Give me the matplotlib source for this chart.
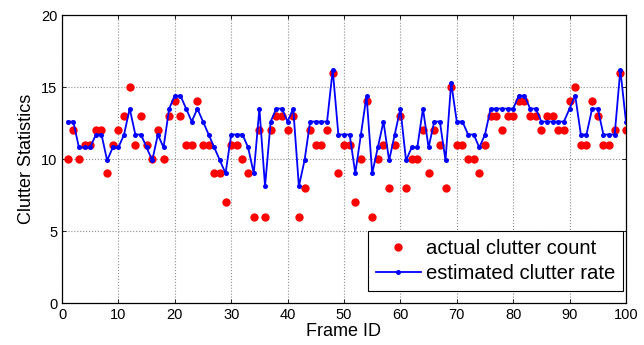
import numpy as np
import matplotlib.pyplot as plt

plt.rcParams['font.family'] = ['Liberation Sans', 'DejaVu Sans']

frames = np.arange(1, 101)

actual_count = [
    10, 12, 10, 11, 11, 12, 12, 9, 11, 12,
    13, 15, 11, 13, 11, 10, 12, 10, 13, 14,
    13, 11, 11, 14, 11, 11, 9, 9, 7, 11,
    11, 10, 9, 6, 12, 6, 12, 13, 13, 12,
    13, 6, 8, 12, 11, 11, 12, 16, 9, 11,
    11, 7, 10, 14, 6, 10, 11, 8, 11, 13,
    8, 10, 10, 12, 9, 12, 11, 8, 15, 11,
    11, 10, 10, 9, 11, 13, 13, 12, 13, 13,
    14, 14, 13, 13, 12, 13, 13, 12, 12, 14,
    15, 11, 11, 14, 13, 11, 11, 12, 16, 12,
]

estimated_rate = [
    12.6, 12.6, 10.8, 10.8, 10.8, 11.7, 11.7, 9.9, 10.8, 10.8,
    11.7, 13.5, 11.7, 11.7, 10.8, 9.9, 11.7, 10.8, 13.5, 14.4,
    14.4, 13.5, 12.6, 13.5, 12.6, 11.7, 10.8, 9.9, 9.0, 11.7,
    11.7, 11.7, 10.8, 9.0, 13.5, 8.1, 12.6, 13.5, 13.5, 12.6,
    13.5, 8.1, 9.9, 12.6, 12.6, 12.6, 12.6, 16.2, 11.7, 11.7,
    11.7, 9.0, 11.7, 14.4, 9.0, 10.8, 12.6, 9.9, 11.7, 13.5,
    9.9, 10.8, 10.8, 13.5, 10.8, 12.6, 12.6, 9.9, 15.3, 12.6,
    12.6, 11.7, 11.7, 10.8, 11.7, 13.5, 13.5, 13.5, 13.5, 13.5,
    14.4, 14.4, 13.5, 13.5, 12.6, 12.6, 12.6, 12.6, 12.6, 13.5,
    14.4, 11.7, 11.7, 13.5, 13.5, 11.7, 11.7, 11.7, 16.2, 12.6,
]

fig = plt.figure(figsize=(6.44, 3.45), dpi=100)
ax = fig.add_axes([0.0963, 0.1217, 0.8757, 0.8348])

ax.plot(frames, actual_count, 'o', color='red', markersize=6,
        markeredgewidth=0, label='actual clutter count')
ax.plot(frames, estimated_rate, '-o', color='blue', linewidth=1.3,
        markersize=3.6, markeredgewidth=0, label='estimated clutter rate')

ax.set_xlim(0, 100)
ax.set_ylim(0, 20)
ax.set_xticks(np.arange(0, 101, 10))
ax.set_yticks(np.arange(0, 21, 5))
ax.tick_params(direction='in', top=True, right=True, labelsize=10.5,
               length=3, width=0.6)
ax.grid(True, linestyle=':', color='0.55', linewidth=0.8)
for s in ax.spines.values():
    s.set_linewidth(0.9)

ax.set_xlabel('Frame ID', fontsize=13, labelpad=1)
ax.set_ylabel('Clutter Statistics', fontsize=13, labelpad=4)

leg = ax.legend(loc='lower right', bbox_to_anchor=(0.9947, 0.0417),
                fontsize=14.6, fancybox=False, framealpha=1,
                edgecolor='black', borderpad=0.4, borderaxespad=0,
                handlelength=2.2, handletextpad=0.25, labelspacing=0.3)
leg.get_frame().set_linewidth(0.8)

fig.savefig('out.png', dpi=100)
